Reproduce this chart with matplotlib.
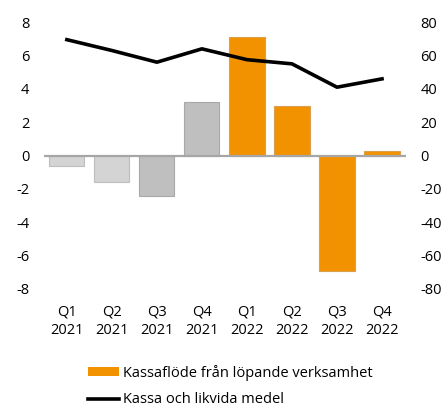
#-------------------------------------------------------------------------
# Imports
import matplotlib
matplotlib.use("Agg")
import matplotlib.pyplot as plt
from matplotlib.patches import Patch
from matplotlib.lines   import Line2D
import numpy as np

#-------------------------------------------------------------------------
# Data
quarters   = ["Q1\n2021", "Q2\n2021", "Q3\n2021", "Q4\n2021",
              "Q1\n2022", "Q2\n2022", "Q3\n2022", "Q4\n2022"]
cash_flow  = [-0.65, -1.6, -2.4, 3.2, 7.1, 3.0, -6.95, 0.3]      # left axis
cash_total = [69.5, 63, 56, 64, 57.5, 55, 41, 46]                # right axis

left_ticks  = [-8, -6, -4, -2, 0, 2, 4, 6, 8]
right_ticks = [-80, -60, -40, -20, 0, 20, 40, 60, 80]

bar_colors = ["#d4d4d4", "#d4d4d4", "#bfbfbf", "#bfbfbf",
              "#f39200", "#f39200", "#f39200", "#f39200"]
edge_colors = ["#bdbdbd", "#bdbdbd", "#a8a8a8", "#a8a8a8",
               "#d9a050", "#d9a050", "#d9a050", "#d9a050"]

legend_labels = ["Kassaflöde från löpande verksamhet", "Kassa och likvida medel"]

#-------------------------------------------------------------------------
# Plot settings
plt.rcParams['font.family'] = ['Open Sans', 'DejaVu Sans']
fsize = 10.5

fig = plt.figure(figsize=(4.48, 4.08), dpi=100)
ax  = fig.add_axes([0.098, 0.2917, 0.808, 0.654])
ax2 = ax.twinx()

x = np.arange(len(quarters))

ax.bar(x, cash_flow, width=0.78, color=bar_colors, edgecolor=edge_colors,
       linewidth=0.8, zorder=2)
ax.axhline(0, color="#a6a6a6", linewidth=1.6, zorder=3)

ax2.plot(x, cash_total, color="black", linewidth=2.6, zorder=4)

ax.set_xlim(-0.51, 7.53)
ax.set_ylim(-8, 8)
ax2.set_ylim(-80, 80)

ax.set_yticks(left_ticks)
ax.set_yticklabels([str(v) for v in left_ticks])
ax2.set_yticks(right_ticks)
ax2.set_yticklabels([str(v) for v in right_ticks])
ax.set_xticks(x)
ax.set_xticklabels(quarters, linespacing=1.3)

for a in (ax, ax2):
    for s in a.spines.values():
        s.set_visible(False)
    a.tick_params(length=0, labelsize=fsize, colors="black")

ax.tick_params(axis='y', pad=10.5)
ax.tick_params(axis='x', pad=11)
ax2.tick_params(axis='y', pad=10.5)

# put the line axis above bars but keep background transparent
ax.set_zorder(1)
ax2.set_zorder(2)
ax2.patch.set_visible(False)

#-------------------------------------------------------------------------
# Legend
handles = [Patch(facecolor="#f39200", edgecolor="none"),
           Line2D([0], [0], color="black", linewidth=2.6)]
fig.legend(handles, legend_labels, loc="upper center",
           bbox_to_anchor=(0.514, 0.106), frameon=False,
           fontsize=fsize, handlelength=2.1, handletextpad=0.27,
           labelspacing=0.8, borderaxespad=0.0, borderpad=0.0,
           handleheight=0.6)

#-------------------------------------------------------------------------
# Saving Plot
fig.savefig("out.png", dpi=100)
